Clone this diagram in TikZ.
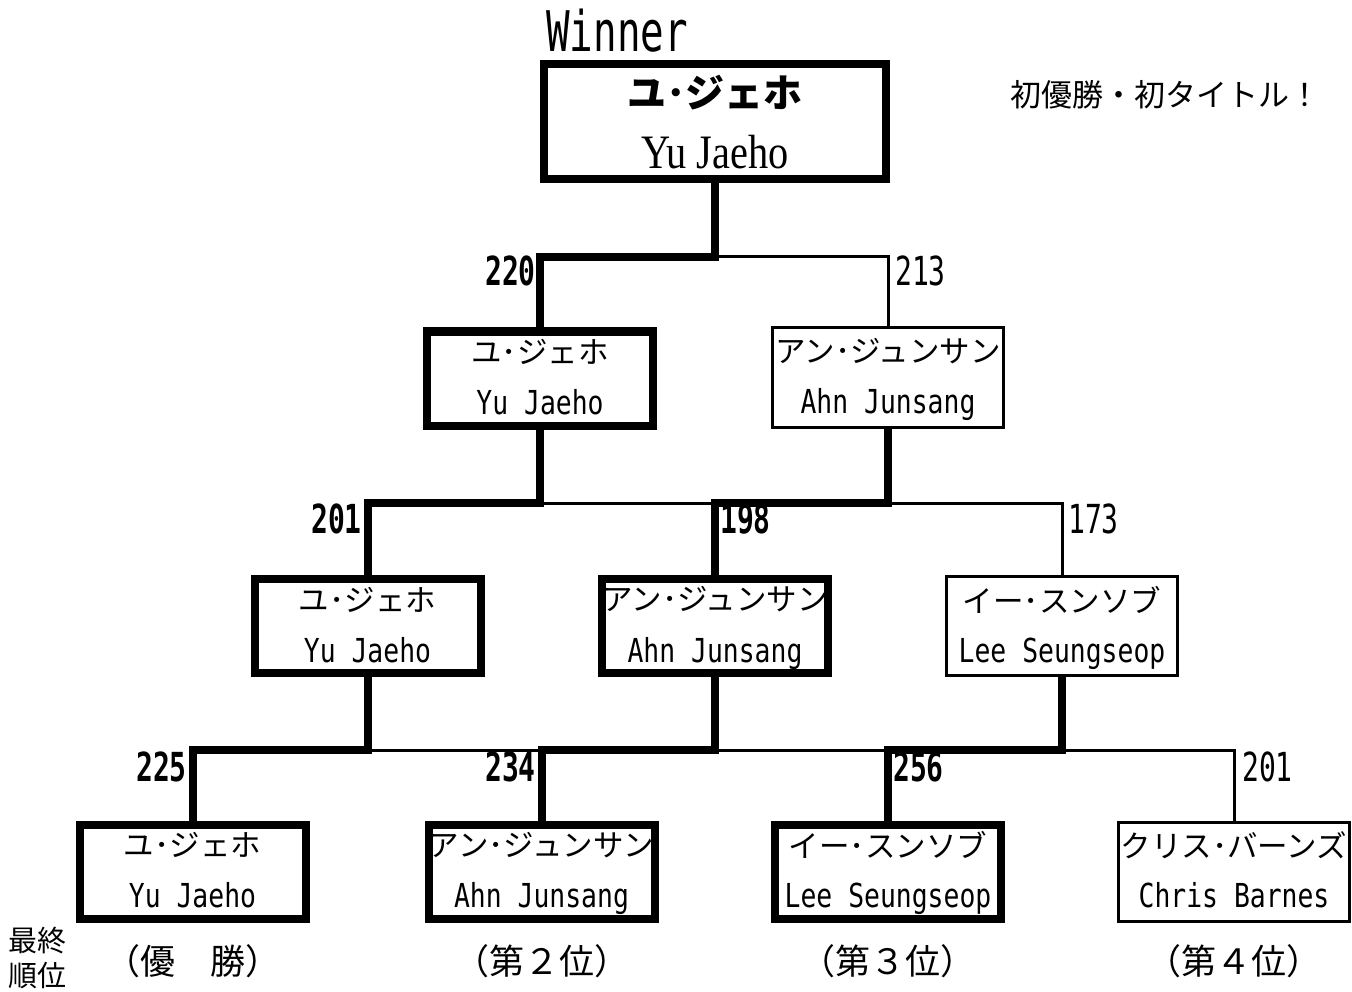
\documentclass[tikz,border=0pt]{standalone}
\usepackage{fontspec}
\newfontfamily\jp{Noto Sans CJK JP}
\newfontfamily\lat[FakeStretch=0.8]{DejaVu Sans Mono}
\newfontfamily\num[FakeStretch=0.7]{DejaVu Sans Mono}
\newfontfamily\ser[FakeStretch=0.84]{Liberation Serif}
\usetikzlibrary{calc}
\begin{document}
\begin{tikzpicture}[x=1pt,y=-1pt,
  wbox/.style={draw,line width=8pt,minimum width=226pt,minimum height=94pt,inner sep=0pt},
  lbox/.style={draw,line width=3pt,minimum width=231pt,minimum height=99pt,inner sep=0pt},
  jpn/.style={inner sep=0pt,font=\jp\fontsize{30.5}{30.5}\selectfont},
  rnk/.style={inner sep=0pt,font=\jp\fontsize{35}{35}\selectfont},
  ltn/.style={inner sep=0pt,anchor=base,font=\lat\fontsize{33}{33}\selectfont},
  won/.style={line width=8pt,line join=miter},
  lost/.style={line width=3pt},
  scw/.style={inner sep=0pt,font=\num\bfseries\fontsize{40}{40}\selectfont},
  scl/.style={inner sep=0pt,font=\num\fontsize{40}{40}\selectfont},
]
\useasboundingbox (0,0) rectangle (1352,992);
% boxes
\node[wbox,minimum width=342pt,minimum height=115pt] (w) at (715,121.5) {};
\node[wbox] (s1) at (540,378.5) {};
\node[lbox] (s2) at (888,377.5) {};
\node[wbox] (q1) at (367.5,626) {};
\node[wbox] (q2) at (715,626) {};
\node[lbox] (q3) at (1062,626) {};
\node[wbox] (f1) at (192.5,871.5) {};
\node[wbox] (f2) at (541.5,871.5) {};
\node[wbox] (f3) at (888,871.5) {};
\node[lbox] (f4) at (1234,871.5) {};
% box texts
\node[inner sep=0pt,font=\jp\bfseries\fontsize{39}{39}\selectfont] (w-j) at ($(w.center)+(0,-29)$) {ユ･ジェホ};
\node[inner sep=0pt,anchor=base,font=\ser\fontsize{48}{48}\selectfont] (w-l) at ($(w.center)+(0,47)$) {Yu Jaeho};
\foreach \n/\j/\l in {s1/ユ･ジェホ/Yu Jaeho, s2/アン･ジュンサン/Ahn Junsang,
  q1/ユ･ジェホ/Yu Jaeho, q2/アン･ジュンサン/Ahn Junsang, q3/イー･スンソブ/Lee Seungseop,
  f1/ユ･ジェホ/Yu Jaeho, f2/アン･ジュンサン/Ahn Junsang, f3/イー･スンソブ/Lee Seungseop,
  f4/クリス･バーンズ/Chris Barnes}{
  \node[jpn] (\n-j) at ($(\n.center)+(0,-26.5)$) {\j};
  \node[ltn] (\n-l) at ($(\n.center)+(0,36)$) {\l};
}
% levels
\coordinate (h1) at (0,257);
\coordinate (h2) at (0,503);
\coordinate (h3) at (0,750);
% thin connectors
\draw[lost] (s1.north |- h1) -- (s2.north |- h1) -- (s2.north);
\draw[lost] (q1.north |- h2) -- (q3.north |- h2) -- (q3.north);
\draw[lost] (f1.north |- h3) -- (f4.north |- h3) -- (f4.north);
% thick connectors
\draw[won] (w.south) -- (w.south |- h1) -- (s1.north |- h1) -- (s1.north);
\draw[won] (s1.south) -- (s1.south |- h2) -- (q1.north |- h2) -- (q1.north);
\draw[won] (s2.south) -- (s2.south |- h2) -- (q2.north |- h2) -- (q2.north);
\draw[won] (q1.south) -- (q1.south |- h3) -- (f1.north |- h3) -- (f1.north);
\draw[won] (q2.south) -- (q2.south |- h3) -- (f2.north |- h3) -- (f2.north);
\draw[won] (q3.south) -- (q3.south |- h3) -- (f3.north |- h3) -- (f3.north);
% scores
\node[scw,anchor=east] (n220) at (536,271) {220};
\node[scl,anchor=west] (n213) at (895,271) {213};
\node[scw,anchor=east] (n201a) at (362,519) {201};
\node[scw,anchor=west] (n198) at (720,519) {198};
\node[scl,anchor=west] (n173) at (1068,519) {173};
\node[scw,anchor=east] (n225) at (187,767) {225};
\node[scw,anchor=east] (n234) at (536,767) {234};
\node[scw,anchor=west] (n256) at (893,767) {256};
\node[scl,anchor=west] (n201b) at (1242,767) {201};
% ranks
\coordinate (rk) at (0,961);
\foreach \n/\t in {f1/（優　勝）, f2/（第２位）, f3/（第３位）, f4/（第４位）}{
  \node[rnk] (\n-r) at (\n.center |- rk) {\t};
}
\node[anchor=west,inner sep=0pt,font=\jp\fontsize{29}{29}\selectfont] (fin1) at (8,941) {最終};
\node[anchor=west,inner sep=0pt,font=\jp\fontsize{29}{29}\selectfont] (fin2) at (8,976) {順位};
\node[anchor=west,inner sep=0pt,font=\jp\fontsize{31}{31}\selectfont] (note) at (1010,95) {初優勝・初タイトル！};
\node[anchor=base west,inner sep=0pt,font=\num\fontsize{56}{56}\selectfont] (wl) at (546,52) {Winner};
\end{tikzpicture}
\end{document}
